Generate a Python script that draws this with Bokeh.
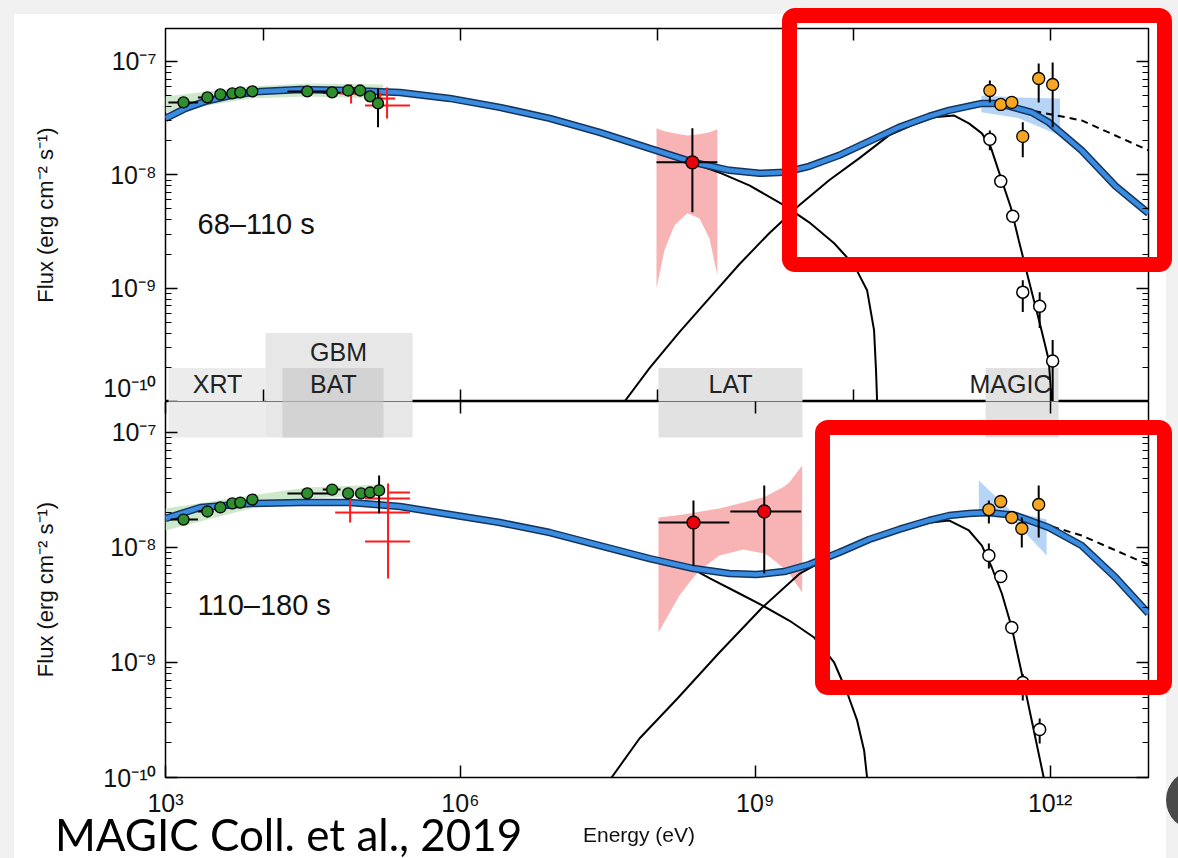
import numpy as np
from bokeh.plotting import figure
from bokeh.layouts import column
from bokeh.models import (LogAxis, FixedTicker, CustomJSTickFormatter, Range1d, Div)
from bokeh.core.properties import value
from bokeh.embed import file_html
from bokeh.resources import INLINE

# ======================= DATA (log10 E [eV], log10 flux [erg cm^-2 s^-1]) =======================
# ---------- panel 1 : 68-110 s ----------
p1_label = "68–110 s"
p1_model_logE = [3.000, 3.203, 3.406, 3.660, 3.964, 4.371, 4.878, 5.386, 5.893, 6.401, 6.909, 7.416, 7.924,
                 8.371, 8.736, 9.041, 9.294, 9.548, 9.853, 10.157, 10.462, 10.766, 10.970, 11.305, 11.477,
                 11.812, 11.985, 12.320, 12.665, 13.0]
p1_model_logF = [-7.502, -7.414, -7.352, -7.300, -7.264, -7.247, -7.256, -7.273, -7.326, -7.405, -7.502, -7.626,
                 -7.767, -7.890, -7.960, -7.987, -7.978, -7.925, -7.828, -7.705, -7.581, -7.485, -7.432, -7.370,
                 -7.370, -7.449, -7.537, -7.784, -8.100, -8.339]
p1_sync_logE = [7.416, 7.924, 8.371, 8.655, 8.939, 9.294, 9.548, 9.802, 10.005, 10.137, 10.208, 10.228, 10.239, 10.245]
p1_sync_logF = [-7.634, -7.775, -7.899, -7.987, -8.093, -8.269, -8.419, -8.604, -8.797, -9.018, -9.370, -9.722, -10.0, -10.5]
p1_ic_logE = [7.670, 7.924, 8.228, 8.533, 8.838, 9.142, 9.447, 9.751, 10.056, 10.360, 10.614, 10.817, 11.020,
              11.173, 11.305, 11.396, 11.497, 11.599, 11.680, 11.782, 11.904, 11.985, 12.015, 12.030]
p1_ic_logF = [-10.0, -9.705, -9.388, -9.088, -8.789, -8.515, -8.269, -8.048, -7.855, -7.652, -7.555, -7.493, -7.476,
              -7.546, -7.634, -7.758, -8.022, -8.286, -8.577, -8.930, -9.344, -9.634, -10.0, -10.5]
p1_dash_logE = [11.60, 11.85, 12.32, 13.0]
p1_dash_logF = [-7.39, -7.44, -7.52, -7.784]
p1_orange_logE = [11.386, 11.497, 11.609, 11.721, 11.883, 12.025]
p1_orange_logF = [-7.256, -7.379, -7.361, -7.661, -7.150, -7.203]
p1_orange_lo = [-7.361, -7.379, -7.361, -7.846, -7.361, -7.581]
p1_orange_hi = [-7.167, -7.379, -7.361, -7.537, -7.018, -7.009]
p1_open_logE = [11.386, 11.497, 11.619, 11.721, 11.893, 12.025]
p1_open_logF = [-7.687, -8.057, -8.366, -9.035, -9.159, -9.643]
p1_open_lo = [-7.784, -8.057, -8.366, -9.211, -9.352, -10.07]
p1_open_hi = [-7.608, -8.057, -8.366, -8.930, -9.035, -9.458]
p1_bfly_logE = [11.30, 11.68, 12.10]
p1_bfly_hi = [-7.300, -7.317, -7.326]
p1_bfly_lo = [-7.449, -7.500, -7.652]
p1_lat_logE = [8.360]
p1_lat_logF = [-7.890]
p1_lat_xlo = [7.995]
p1_lat_xhi = [8.614]
p1_lat_lo = [-8.330]
p1_lat_hi = [-7.590]
p1_latband_logE = [7.995, 8.076, 8.178, 8.310, 8.431, 8.533, 8.614]
p1_latband_hi = [-7.590, -7.615, -7.634, -7.652, -7.643, -7.625, -7.599]
p1_latband_lo = [-9.000, -8.665, -8.445, -8.339, -8.383, -8.559, -8.885]
p1_xrt_logE = [3.183, 3.426, 3.558, 3.680, 3.761, 3.883, 4.442, 4.695, 4.858, 4.980, 5.081, 5.162]
p1_xrt_logF = [-7.361, -7.317, -7.291, -7.282, -7.273, -7.264, -7.264, -7.273, -7.256, -7.256, -7.308, -7.370]
p1_xrt_xlo = [3.03, 3.33, 3.558, 3.680, 3.761, 3.883, 4.24, 4.60, 4.858, 4.980, 5.081, 5.162]
p1_xrt_xhi = [3.33, 3.49, 3.558, 3.680, 3.761, 3.883, 4.68, 4.78, 4.858, 4.980, 5.081, 5.162]
p1_xrt_lo = [-7.361, -7.317, -7.291, -7.282, -7.273, -7.264, -7.264, -7.273, -7.256, -7.256, -7.308, -7.581]
p1_xrt_hi = [-7.361, -7.317, -7.291, -7.282, -7.273, -7.264, -7.264, -7.273, -7.256, -7.256, -7.308, -7.238]
p1_xband_logE = [3.0, 3.863, 4.442, 5.213]
p1_xband_hi = [-7.308, -7.220, -7.194, -7.203]
p1_xband_lo = [-7.449, -7.326, -7.308, -7.326]
p1_gbm_logE = [4.888, 5.254, 5.183]
p1_gbm_logF = [-7.282, -7.388, -7.326]
p1_gbm_xlo = [4.777, 5.030, 5.030]
p1_gbm_xhi = [5.010, 5.487, 5.335]
p1_gbm_lo = [-7.370, -7.502, -7.379]
p1_gbm_hi = [-7.203, -7.229, -7.273]

# ---------- panel 2 : 110-180 s ----------
p2_label = "110–180 s"
p2_model_logE = [3.000, 3.355, 3.863, 4.371, 4.878, 5.386, 5.893, 6.401, 6.909, 7.416, 7.924, 8.371, 8.736,
                 9.010, 9.294, 9.548, 9.853, 10.157, 10.462, 10.766, 10.970, 11.173, 11.376, 11.650, 11.985,
                 12.320, 12.665, 13.0]
p2_model_logF = [-7.748, -7.652, -7.617, -7.609, -7.609, -7.643, -7.713, -7.783, -7.870, -7.983, -8.096, -8.183,
                 -8.226, -8.235, -8.209, -8.148, -8.043, -7.930, -7.843, -7.765, -7.722, -7.704, -7.696, -7.722,
                 -7.826, -7.983, -8.261, -8.574]
p2_sync_logE = [7.924, 8.371, 8.543, 8.838, 9.071, 9.345, 9.599, 9.802, 9.934, 10.036, 10.107, 10.137, 10.145]
p2_sync_logF = [-8.096, -8.191, -8.270, -8.400, -8.504, -8.635, -8.783, -9.000, -9.261, -9.504, -9.765, -10.0, -10.5]
p2_ic_logE = [7.538, 7.822, 8.208, 8.635, 9.071, 9.447, 9.680, 9.853, 10.157, 10.462, 10.766, 10.970, 11.173,
              11.305, 11.406, 11.508, 11.609, 11.711, 11.812, 11.934, 11.95]
p2_ic_logF = [-10.0, -9.661, -9.313, -8.913, -8.522, -8.23, -8.12, -8.050, -7.940, -7.850, -7.785, -7.765, -7.852,
              -7.983, -8.174, -8.400, -8.696, -9.096, -9.504, -10.0, -10.5]
p2_dash_logE = [11.55, 11.75, 12.32, 13.0]
p2_dash_logF = [-7.705, -7.748, -7.896, -8.150]
p2_orange_logE = [11.376, 11.497, 11.609, 11.711, 11.883]
p2_orange_logF = [-7.670, -7.600, -7.739, -7.835, -7.626]
p2_orange_lo = [-7.791, -7.600, -7.739, -8.000, -7.913]
p2_orange_hi = [-7.591, -7.600, -7.739, -7.739, -7.461]
p2_open_logE = [11.376, 11.497, 11.609, 11.721, 11.893]
p2_open_logF = [-8.070, -8.252, -8.696, -9.174, -9.583]
p2_open_lo = [-8.183, -8.252, -8.696, -9.330, -9.704]
p2_open_hi = [-7.965, -8.252, -8.696, -9.100, -9.487]
p2_bfly_logE = [11.274, 11.609, 11.964]
p2_bfly_hi = [-7.417, -7.687, -7.757]
p2_bfly_lo = [-7.730, -7.748, -8.070]
p2_lat_logE = [8.371, 9.091]
p2_lat_logF = [-7.783, -7.687]
p2_lat_xlo = [8.015, 8.746]
p2_lat_xhi = [8.736, 9.467]
p2_lat_lo = [-8.157, -8.226]
p2_lat_hi = [-7.591, -7.461]
p2_latband_logE = [8.015, 8.228, 8.330, 8.431, 8.635, 8.878, 9.091, 9.142, 9.294, 9.345, 9.477]
p2_latband_hi = [-7.739, -7.717, -7.704, -7.690, -7.661, -7.609, -7.560, -7.539, -7.470, -7.435, -7.287]
p2_latband_lo = [-8.739, -8.417, -8.304, -8.200, -8.070, -8.017, -8.052, -8.078, -8.183, -8.226, -8.391]
p2_xrt_logE = [3.183, 3.426, 3.558, 3.680, 3.761, 3.883, 4.442, 4.695, 4.858, 4.990, 5.081, 5.173]
p2_xrt_logF = [-7.757, -7.687, -7.652, -7.617, -7.609, -7.583, -7.530, -7.496, -7.530, -7.530, -7.522, -7.504]
p2_xrt_xlo = [3.05, 3.33, 3.558, 3.680, 3.761, 3.883, 4.24, 4.60, 4.858, 4.990, 5.081, 5.173]
p2_xrt_xhi = [3.33, 3.49, 3.558, 3.680, 3.761, 3.883, 4.68, 4.78, 4.858, 4.990, 5.081, 5.173]
p2_xrt_lo = [-7.757, -7.687, -7.652, -7.617, -7.609, -7.583, -7.530, -7.496, -7.530, -7.530, -7.522, -7.704]
p2_xrt_hi = [-7.757, -7.687, -7.652, -7.617, -7.609, -7.583, -7.530, -7.496, -7.530, -7.530, -7.522, -7.374]
p2_xband_logE = [3.0, 3.863, 4.442, 5.213]
p2_xband_hi = [-7.661, -7.548, -7.478, -7.452]
p2_xband_lo = [-7.852, -7.661, -7.574, -7.539]
p2_gbm_logE = [4.878, 5.264, 5.264, 5.264, 5.264]
p2_gbm_logF = [-7.696, -7.522, -7.574, -7.696, -7.948]
p2_gbm_xlo = [4.726, 5.254, 5.030, 5.030, 5.030]
p2_gbm_xhi = [5.030, 5.487, 5.487, 5.487, 5.487]
p2_gbm_lo = [-7.783, -7.522, -7.574, -7.696, -8.270]
p2_gbm_hi = [-7.565, -7.522, -7.574, -7.696, -7.443]

# ---------- instrument energy bands ----------
inst_names = ["XRT", "GBM", "BAT", "LAT", "MAGIC"]
inst_lo = [3.03, 4.017, 4.19, 8.015, 11.342]
inst_hi = [4.017, 5.513, 5.218, 9.48, 12.085]
inst_label_logE = [3.529, 4.760, 4.709, 8.748, 11.596]

x_tick_exps_p1 = [4, 6, 8, 10, 12]
x_tick_exps_p2 = [3, 6, 9, 12]

citation = "MAGIC Coll. et al., 2019"
x_title = "Energy (eV)"
y_title = "Flux (erg cm⁻² s⁻¹)"

# ======================= helpers =======================
def E(a):
    return 10.0 ** np.asarray(a, dtype=float)

SUP = CustomJSTickFormatter(code="""
const s = {'0':'\u2070','1':'\u00b9','2':'\u00b2','3':'\u00b3','4':'\u2074','5':'\u2075','6':'\u2076','7':'\u2077','8':'\u2078','9':'\u2079','-':'\u207b'};
const e = Math.round(Math.log10(tick));
return '10' + String(e).split('').map(c => s[c]).join('');
""")
BLANK = CustomJSTickFormatter(code="return '';")

YMAJ = [10.0 ** d for d in range(-10, -6)]
YMIN = [m * 10.0 ** d for d in range(-11, -6) for m in range(2, 10)]
FONT = "Liberation Sans"


def hidden_axis(ticker, tin, tmin=0):
    ax = LogAxis(ticker=ticker, formatter=BLANK)
    ax.major_label_text_font_size = "0px"
    ax.major_label_standoff = 0
    ax.major_tick_out = 0
    ax.major_tick_in = tin
    ax.minor_tick_out = 0
    ax.minor_tick_in = tmin
    ax.axis_line_color = None
    ax.major_tick_line_color = "black"
    ax.major_tick_line_width = 1.5
    ax.minor_tick_line_color = "black" if tmin else None
    ax.minor_tick_line_width = 1.2
    return ax


def make_panel(height, top_b, bot_b, ytop, xt_top, xt_bot, show_x):
    p = figure(width=1178, height=height, x_axis_type="log", y_axis_type="log",
               x_axis_location=None, y_axis_location=None,
               x_range=Range1d(1e3, 1e13), y_range=Range1d(1e-10, ytop),
               output_backend="svg", toolbar_location=None,
               min_border_left=165, min_border_right=30,
               min_border_top=top_b, min_border_bottom=bot_b)
    p.grid.visible = False
    p.outline_line_color = "black"
    p.outline_line_width = 1.5
    p.background_fill_color = "white"
    p.border_fill_color = "white"

    la = LogAxis(ticker=FixedTicker(ticks=YMAJ, minor_ticks=YMIN), formatter=SUP)
    la.major_label_text_font = FONT
    la.major_label_text_font_size = "25px"
    la.major_label_text_color = "#111111"
    la.major_label_standoff = 9
    la.major_tick_out = 0
    la.major_tick_in = 12
    la.minor_tick_out = 0
    la.minor_tick_in = 6
    la.major_tick_line_width = 1.5
    la.minor_tick_line_width = 1.2
    la.axis_line_color = None
    la.axis_label = y_title
    la.axis_label_text_font = FONT
    la.axis_label_text_font_size = "22px"
    la.axis_label_text_font_style = "normal"
    la.axis_label_text_color = "#111111"
    la.axis_label_standoff = 42
    p.add_layout(la, "left")
    p.add_layout(hidden_axis(FixedTicker(ticks=YMAJ, minor_ticks=YMIN), 12, 6), "right")
    p.add_layout(hidden_axis(FixedTicker(ticks=[10.0 ** e for e in xt_top]), 12), "above")
    if show_x:
        ba = LogAxis(ticker=FixedTicker(ticks=[10.0 ** e for e in xt_bot]), formatter=SUP)
        ba.major_label_text_font = FONT
        ba.major_label_text_font_size = "25px"
        ba.major_label_text_color = "#111111"
        ba.major_label_standoff = 11
        ba.major_tick_out = 0
        ba.major_tick_in = 12
        ba.major_tick_line_width = 1.5
        ba.axis_line_color = None
        p.add_layout(ba, "below")
    else:
        p.add_layout(hidden_axis(FixedTicker(ticks=[10.0 ** e for e in xt_bot]), 12), "below")
    return p


def errbars(p, xe, ye, xlo, xhi, ylo, yhi, color="black", width=2):
    p.segment(x0=E(xlo), y0=E(ye), x1=E(xhi), y1=E(ye), line_color=color, line_width=width)
    p.segment(x0=E(xe), y0=E(ylo), x1=E(xe), y1=E(yhi), line_color=color, line_width=width)


def draw_data(p, d, box_lo, box_hi, gbm_hi, labels):
    cols = ["#ececec", "#e7e7e7", "#d3d3d3", "#e2e2e2", "#e2e2e2"]
    for i, name in enumerate(inst_names):
        top = gbm_hi if name == "GBM" else box_hi
        p.quad(left=E(inst_lo[i]), right=E(inst_hi[i]), bottom=E(box_lo), top=E(top),
               fill_color=cols[i], line_color=None)
    if labels is not None:
        ly = [labels[1] if n == "GBM" else labels[0] for n in inst_names]
        p.text(x=E(inst_label_logE), y=E(ly), text=inst_names, text_font=value(FONT),
               text_font_size="25px", text_align="center", text_baseline="middle", text_color="#222222")
    p.text(x=[10 ** 3.326], y=[10 ** d["label_y"]], text=[d["label"]], text_font=value(FONT),
           text_font_size="29px", text_align="left", text_baseline="middle", text_color="#111111")
    p.varea(x=E(d["xband_logE"]), y1=E(d["xband_lo"]), y2=E(d["xband_hi"]), fill_color="#c9e5c5", fill_alpha=0.9)
    p.varea(x=E(d["latband_logE"]), y1=E(d["latband_lo"]), y2=E(d["latband_hi"]), fill_color="#f8b0b0", fill_alpha=0.95)
    p.varea(x=E(d["bfly_logE"]), y1=E(d["bfly_lo"]), y2=E(d["bfly_hi"]), fill_color="#a9cdf3", fill_alpha=0.85)
    p.line(E(d["sync_logE"]), E(d["sync_logF"]), line_color="black", line_width=2)
    p.line(E(d["ic_logE"]), E(d["ic_logF"]), line_color="black", line_width=2)
    p.line(E(d["dash_logE"]), E(d["dash_logF"]), line_color="black", line_width=2, line_dash="7 5")
    p.line(E(d["model_logE"]), E(d["model_logF"]), line_color="#15355f", line_width=7.5)
    p.line(E(d["model_logE"]), E(d["model_logF"]), line_color="#3a8ce0", line_width=4.5)
    errbars(p, d["gbm_logE"], d["gbm_logF"], d["gbm_xlo"], d["gbm_xhi"], d["gbm_lo"], d["gbm_hi"], color="#ff1a1a", width=2)
    errbars(p, d["xrt_logE"], d["xrt_logF"], d["xrt_xlo"], d["xrt_xhi"], d["xrt_lo"], d["xrt_hi"])
    p.scatter(E(d["xrt_logE"]), E(d["xrt_logF"]), size=11, fill_color="#2f8f2f", line_color="black", line_width=1.3)
    errbars(p, d["lat_logE"], d["lat_logF"], d["lat_xlo"], d["lat_xhi"], d["lat_lo"], d["lat_hi"])
    p.scatter(E(d["lat_logE"]), E(d["lat_logF"]), size=13, fill_color="#e8000b", line_color="black", line_width=1.3)
    errbars(p, d["open_logE"], d["open_logF"], d["open_logE"], d["open_logE"], d["open_lo"], d["open_hi"])
    p.scatter(E(d["open_logE"]), E(d["open_logF"]), size=12, fill_color="white", line_color="black", line_width=1.5)
    errbars(p, d["orange_logE"], d["orange_logF"], d["orange_logE"], d["orange_logE"], d["orange_lo"], d["orange_hi"])
    p.scatter(E(d["orange_logE"]), E(d["orange_logF"]), size=12, fill_color="#f5a623", line_color="black", line_width=1.3)


def bundle(prefix):
    g = globals()
    keys = ["model_logE", "model_logF", "sync_logE", "sync_logF", "ic_logE", "ic_logF", "dash_logE", "dash_logF",
            "orange_logE", "orange_logF", "orange_lo", "orange_hi", "open_logE", "open_logF", "open_lo", "open_hi",
            "bfly_logE", "bfly_hi", "bfly_lo", "lat_logE", "lat_logF", "lat_xlo", "lat_xhi", "lat_lo", "lat_hi",
            "latband_logE", "latband_hi", "latband_lo", "xrt_logE", "xrt_logF", "xrt_xlo", "xrt_xhi", "xrt_lo",
            "xrt_hi", "xband_logE", "xband_hi", "xband_lo", "gbm_logE", "gbm_logF", "gbm_xlo", "gbm_xhi", "gbm_lo",
            "gbm_hi", "label"]
    return {k: g[prefix + "_" + k] for k in keys}


# ======================= panels =======================
d1 = bundle("p1")
d1["label_y"] = -8.438
d2 = bundle("p2")
d2["label_y"] = -8.496

top = make_panel(401, 28, 0, 10 ** -6.709, x_tick_exps_p1, x_tick_exps_p1, False)
draw_data(top, d1, -11.0, -9.705, -9.396, (-9.850, -9.567))

bot = make_panel(421, 0, 45, 10 ** -6.7305, x_tick_exps_p2, x_tick_exps_p2, True)
draw_data(bot, d2, -7.043, -6.0, -6.0, None)

# ---- slide decorations and captions (viewport-fixed overlay) ----
def fx(l, t, w, h, extra):
    return (f'<div style="position:fixed;left:{l}px;top:{t}px;width:{w}px;height:{h}px;'
            f'box-sizing:border-box;pointer-events:none;z-index:50;{extra}"></div>')

overlay = "".join([
    fx(0, 0, 14, 858, "background:#f1f1f1;"),
    fx(1166, 0, 12, 858, "background:#f1f1f1;"),
    fx(0, 0, 1178, 14, "background:#f1f1f1;"),
    fx(782, 8, 390, 264, "border:15px solid #ff0000;border-radius:13px;"),
    fx(815, 420, 357, 275, "border:15px solid #ff0000;border-radius:13px;"),
    fx(1166, 770, 64, 60, "background:#4a4a4a;border-radius:32px;"),
    f'<div style="position:fixed;left:55px;top:809px;z-index:50;white-space:nowrap;color:#000;'
    f"font-family:'Liberation Sans Narrow','Lato',sans-serif;font-size:44px;line-height:50px;\">{citation}</div>",
    f'<div style="position:fixed;left:583px;top:822px;z-index:50;white-space:nowrap;color:#111;'
    f"font-family:'Liberation Sans',sans-serif;font-size:21px;line-height:25px;\">{x_title}</div>",
])
captions = Div(text=overlay, width=1178, height=36)

layout = column(top, bot, captions, spacing=0)
open("out.html", "w").write(file_html(layout, INLINE))
